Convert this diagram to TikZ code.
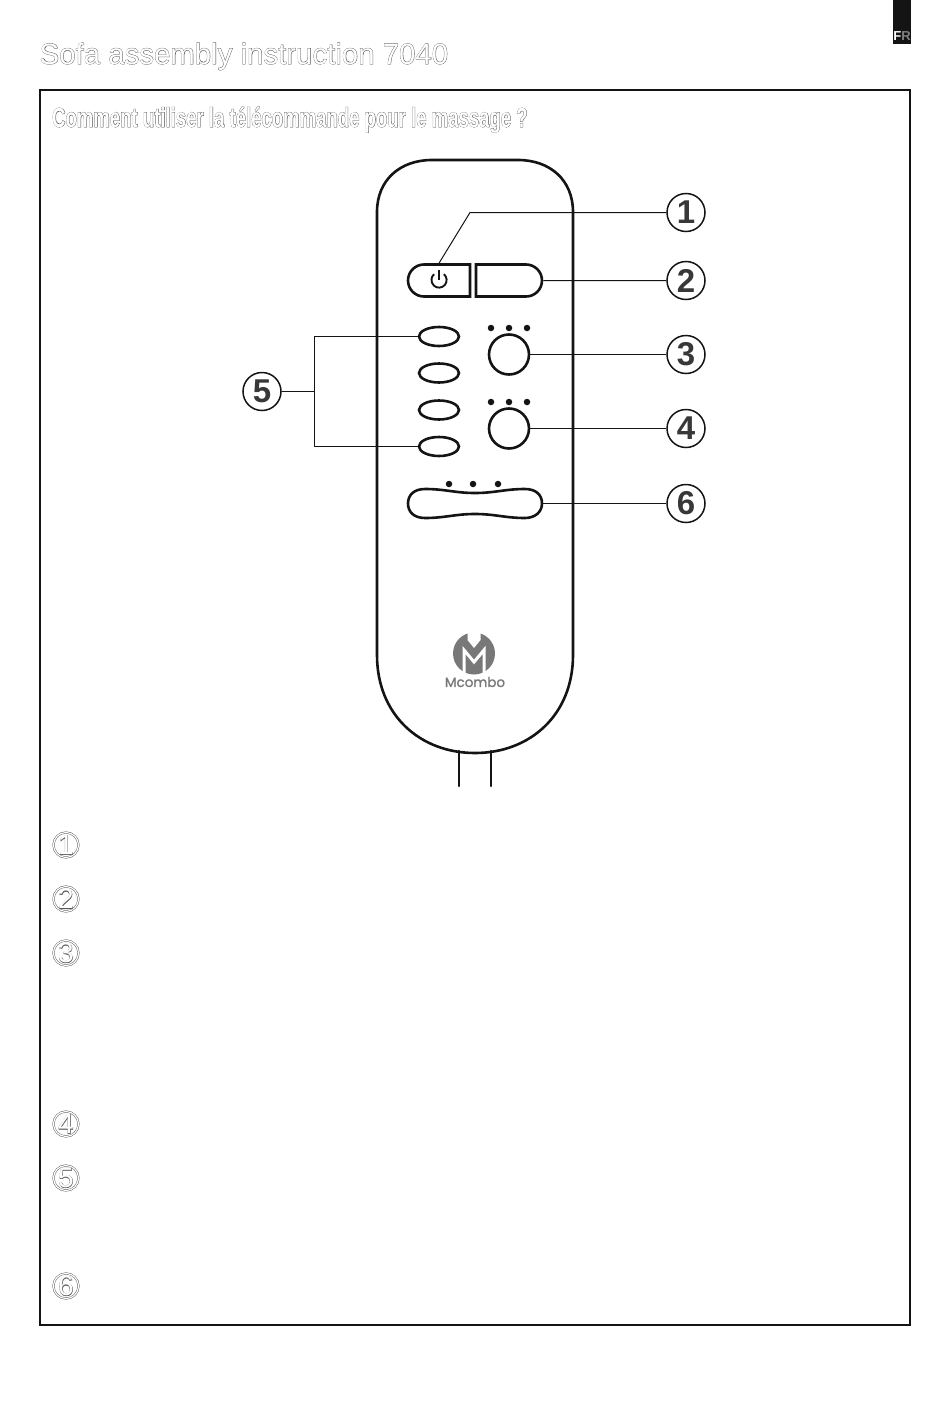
\documentclass[tikz,border=0pt]{standalone}
\usepackage{fontspec}
\usetikzlibrary{shapes.geometric,shapes.misc}
\newfontfamily\plainfont{Liberation Sans}
\newfontfamily\plainfat[FakeBold=1.9]{Liberation Sans}
\newfontfamily\narrowfont[FakeStretch=0.675]{Liberation Sans Bold}
\newfontfamily\narrowfat[FakeStretch=0.675,FakeBold=1.9]{Liberation Sans Bold}
\newfontfamily\logofont[FakeBold=1]{Poppins}
\definecolor{hollow}{gray}{0.35}
\definecolor{logogray}{gray}{0.47}
\definecolor{ink}{gray}{0.08}
\newcommand{\hollowplain}[1]{\rlap{\plainfat\color{hollow}#1}{\plainfont\color{white}#1}}
\newcommand{\hollownarrow}[1]{\rlap{\narrowfat\color{hollow}#1}{\narrowfont\color{white}#1}}
\tikzset{
    shell/.style={line width=2.6pt, draw=ink},
    oval/.style={ellipse, shell, minimum width=40pt, minimum height=19pt, inner sep=0pt},
    knob/.style={circle, shell, minimum size=40pt, inner sep=0pt},
    led/.style={circle, fill=ink, minimum size=6.5pt, inner sep=0pt},
    callout/.style={circle, draw=ink, line width=1.5pt, minimum size=38pt, inner sep=0pt, font=\plainfont\bfseries\fontsize{33}{33}\selectfont, text=ink!85},
    leader/.style={draw=ink, line width=1pt},
    marker/.style={circle, draw=hollow, line width=0.45pt, double=white, double distance=1.2pt, minimum size=25pt, inner sep=0pt, font=\fontsize{28}{28}\selectfont},
}
\begin{document}
\begin{tikzpicture}[x=1pt, y=-1pt]
    \useasboundingbox (0, 0) rectangle (950, 1405);

    % page furniture
    \fill[ink] (893, 0) rectangle (911, 44);
    \node[inner sep=0pt, text=white, font=\plainfont\bfseries\fontsize{13}{13}\selectfont] (tab) at (902, 36) {F\textcolor{gray}{R}};
    \node[anchor=base west, inner sep=0pt, font=\fontsize{29.4}{29.4}\selectfont] (title) at (39.5, 64) {\hollowplain{Sofa assembly instruction 7040}};
    \draw[line width=1.3pt, draw=ink] (40, 90) rectangle (910, 1325);
    \node[anchor=base west, inner sep=0pt, font=\fontsize{27.5}{27.5}\selectfont] (heading) at (52, 127) {\hollownarrow{Comment utiliser la télécommande pour le massage ?}};

    % remote
    \draw[shell] (377, 212) .. controls (377, 180) and (400, 160) .. (432, 160)
        -- (518, 160) .. controls (550, 160) and (573, 180) .. (573, 212)
        -- (573, 655) .. controls (573, 715) and (530, 753) .. (475, 753)
        .. controls (420, 753) and (377, 715) .. (377, 655) -- cycle;
    \coordinate (wireA) at (459, 786);
    \coordinate (wireB) at (491, 786);
    \draw[shell, line cap=round] (wireA) -- (459, 751);
    \draw[shell, line cap=round] (wireB) -- (491, 751);

    % buttons
    \node[rounded rectangle, rounded rectangle east arc=none, shell, minimum width=62pt, minimum height=32pt, inner sep=0pt] (power) at (439, 280.5) {};
    \node[rounded rectangle, rounded rectangle west arc=none, shell, minimum width=66pt, minimum height=32pt, inner sep=0pt] (mode) at (509, 280.5) {};
    \draw[line width=1.9pt, draw=ink] (443.9, 274.2) arc (-50:230:7.6);
    \draw[line width=1.9pt, draw=ink] (439, 270) -- (439, 280);

    \foreach \name/\ypos in {ovalA/336.5, ovalB/373, ovalC/410, ovalD/446.5}
        \node[oval] (\name) at (439, \ypos) {};

    \node[knob] (knobA) at (509, 354.5) {};
    \node[knob] (knobB) at (509, 428.5) {};
    \foreach \xpos in {491, 509, 527} {
        \node[led] (ledA\xpos) at (\xpos, 328) {};
        \node[led] (ledB\xpos) at (\xpos, 402) {};
    }
    \foreach \xpos in {449, 473, 498}
        \node[led] (ledC\xpos) at (\xpos, 484) {};

    \coordinate (wave) at (542, 503.5);
    \draw[shell] (wave) .. controls (542, 494) and (535, 489) .. (525, 489)
        .. controls (505, 489) and (495, 493) .. (475, 493)
        .. controls (455, 493) and (445, 489) .. (425, 489)
        .. controls (414, 489) and (408, 495) .. (408, 503.5)
        .. controls (408, 512) and (414, 518) .. (425, 518)
        .. controls (445, 518) and (455, 514) .. (475, 514)
        .. controls (495, 514) and (505, 518) .. (525, 518)
        .. controls (535, 518) and (542, 512) .. (wave) -- cycle;

    % logo
    \fill[logogray] (474, 653.5) circle (21);
    \fill[white] (467.5, 630) -- (480.5, 630) -- (480.5, 640) -- (474, 648) -- (467.5, 640) -- cycle;
    \draw[white, line width=3pt, miter limit=10] (464, 676) -- (464, 650) -- (474, 662) -- (484, 650) -- (484, 676);
    \node[inner sep=0pt, text=logogray, font=\logofont\fontsize{13.5}{13.5}\selectfont] (brand) at (475, 682) {Mcombo};

    % callouts
    \node[callout] (one) at (686, 212.5) {1};
    \node[callout] (two) at (686, 280.5) {2};
    \node[callout] (three) at (686, 354.5) {3};
    \node[callout] (four) at (686, 428.5) {4};
    \node[callout] (six) at (686, 503.5) {6};
    \node[callout] (five) at (262, 391.5) {5};

    \draw[leader] (one) -- (470, 212.5) -- (power.north);
    \draw[leader] (two) -- (mode);
    \draw[leader] (three) -- (knobA);
    \draw[leader] (four) -- (knobB);
    \draw[leader] (six) -- (wave);
    \coordinate (fork) at (314.5, 391.5);
    \draw[leader] (five) -- (fork);
    \draw[leader] (ovalA.west) -- (314.5, 336.5) -- (314.5, 446.5) -- (ovalD.west);

    % list markers
    \foreach \name/\ypos/\num in {markA/845/1, markB/899/2, markC/953/3, markD/1124/4, markE/1178/5, markF/1286/6}
        \node[marker] (\name) at (66, \ypos) {\hollowplain{\num}};
\end{tikzpicture}
\end{document}
